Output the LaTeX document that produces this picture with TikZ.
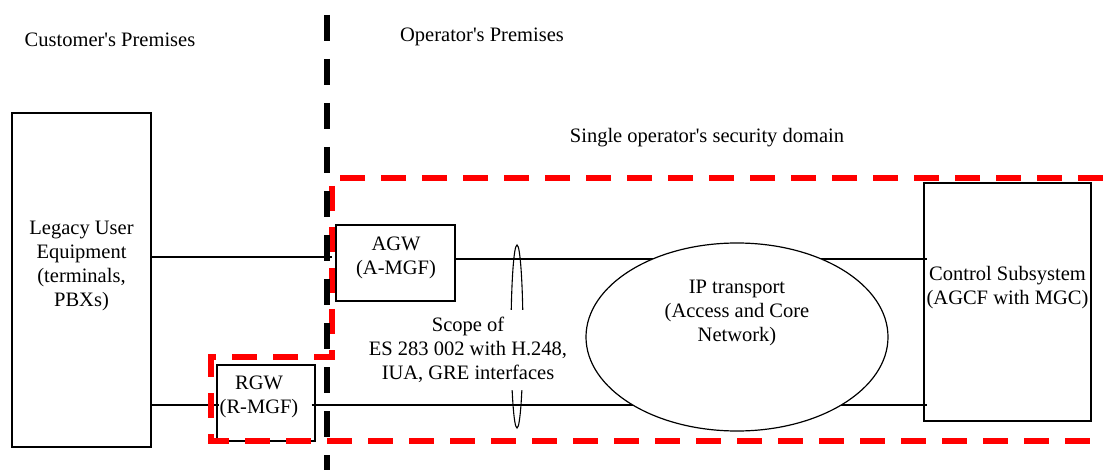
\documentclass[tikz,border=0pt]{standalone}
\usepackage{fontspec}
\setmainfont{Liberation Serif}[Ligatures=TeXOff]
\usetikzlibrary{shapes.geometric}
\begin{document}
\begin{tikzpicture}[x=1pt,y=-1pt,
  every node/.style={font=\fontsize{20.5}{24}\selectfont, inner sep=0pt},
  lbl/.style={align=center, text=black},
  boxnode/.style={draw, line width=1.2pt, rectangle},
  conn/.style={line width=1.1pt},
  reddash/.style={draw=red, line width=6pt, dash pattern=on 25pt off 16pt},
  blackdash/.style={draw=black, line width=6pt, dash pattern=on 26pt off 18pt}]
\useasboundingbox (0,0) rectangle (1103,470);

% boxes
\node[boxnode, minimum width=139pt, minimum height=334pt] (legacy) at (81.5,280) {};
\node[boxnode, minimum width=119pt, minimum height=76pt] (agw) at (395.5,263) {};
\node[boxnode, minimum width=98pt, minimum height=76pt] (rgw) at (266,403) {};
\node[boxnode, minimum width=167pt, minimum height=238pt] (ctrl) at (1007.5,302) {};

% line levels
\coordinate (u1) at (0,257);
\coordinate (u2) at (0,259);
\coordinate (l1) at (0,405);

% connectors
\draw[conn] (legacy.east |- u1) -- ([xshift=-3pt]agw.west |- u1);
\draw[conn] (agw.east |- u2) -- ([xshift=4pt]ctrl.west |- u2);
\draw[conn] (legacy.east |- l1) -- ([xshift=3pt]rgw.west |- l1);
\draw[conn] ([xshift=-4pt]rgw.east |- l1) -- ([xshift=4pt]ctrl.west |- l1);

% IP transport cloud
\node[ellipse, draw, line width=1.2pt, fill=white, minimum width=302pt, minimum height=188pt] (ip) at (737,337) {};
\node[lbl] (iptext) at (737,313) {IP transport\\(Access and Core\\Network)};

% interface loop and scope text
\node[ellipse, draw, line width=1.1pt, minimum width=12pt, minimum height=183pt] (loop) at (517,336.5) {};
\node[lbl, fill=white, inner sep=7pt] (scope) at (468,350) {Scope of\\ES 283 002 with H.248,\\IUA, GRE interfaces};

% box labels
\node[lbl] (legacytext) at (81.5,266) {Legacy User\\Equipment\\(terminals,\\PBXs)};
\node[lbl] (agwtext) at (396,258) {AGW\\(A-MGF)};
\node[lbl] (rgwtext) at (259,397) {RGW\\(R-MGF)};
\node[lbl] (ctrltext) at (1007.5,288) {Control Subsystem\\(AGCF with MGC)};

% headings
\node[lbl] (cust) at (110,40) {Customer's Premises};
\node[lbl] (oper) at (482,37) {Operator's Premises};
\node[lbl] (domain) at (707,138) {Single operator's security domain};

% security domain
\draw[reddash] (1103,178) -- (332,178) -- (332,357) -- (211,357) -- (211,441) -- (1103,441);

% premises boundary
\draw[blackdash] (327,15) -- (327,470);
\end{tikzpicture}
\end{document}
